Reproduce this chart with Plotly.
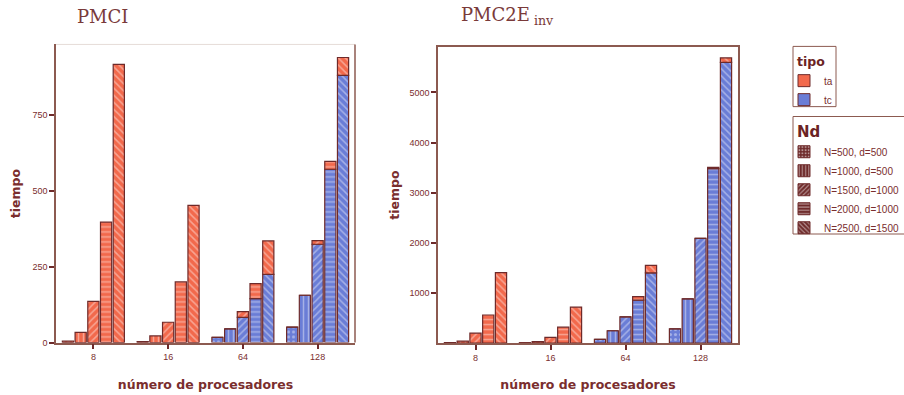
import plotly.graph_objects as go

categories = ["8", "16", "64", "128"]
nd_labels = ["N=500, d=500", "N=1000, d=500", "N=1500, d=1000", "N=2000, d=1000", "N=2500, d=1500"]
nd_patterns = [".", "|", "/", "-", "\\"]

# PMCI : tc (blue, bottom) and ta (red, top) per Nd, per number of processors
pmci_tc = [
    [0, 0, 17, 51],
    [0, 0, 45, 156],
    [0, 0, 83, 324],
    [0, 0, 145, 571],
    [0, 0, 225, 880],
]
pmci_ta = [
    [5, 3, 0, 0],
    [34, 22, 0, 0],
    [136, 67, 19, 12],
    [397, 200, 49, 26],
    [916, 452, 110, 59],
]

# PMC2E_inv
pmc2e_tc = [
    [0, 0, 75, 285],
    [0, 0, 246, 882],
    [0, 0, 522, 2089],
    [0, 0, 856, 3480],
    [0, 0, 1400, 5600],
]
pmc2e_ta = [
    [10, 8, 0, 0],
    [40, 30, 0, 0],
    [199, 114, 0, 0],
    [561, 317, 71, 25],
    [1407, 718, 151, 90],
]

RED = "#f2694c"
BLUE = "#6a7dd6"
EDGE = "#6e2a2a"
TXT = "#7a2e2e"
AX = "#8c5a50"

fig = go.Figure()


def add_chart(tc, ta, xa, ya):
    for k in range(len(nd_labels)):
        fig.add_trace(go.Bar(
            x=categories, y=tc[k], xaxis=xa, yaxis=ya, offsetgroup=str(k),
            marker=dict(color=BLUE, line=dict(color=EDGE, width=1.2),
                        pattern=dict(shape=nd_patterns[k], fgcolor="rgba(255,255,255,0.8)",
                                     size=5, solidity=0.3)),
            showlegend=False, hoverinfo="skip"))
        fig.add_trace(go.Bar(
            x=categories, y=ta[k], base=tc[k], xaxis=xa, yaxis=ya, offsetgroup=str(k),
            marker=dict(color=RED, line=dict(color=EDGE, width=1.2),
                        pattern=dict(shape=nd_patterns[k], fgcolor="rgba(255,255,255,0.8)",
                                     size=5, solidity=0.3)),
            showlegend=False, hoverinfo="skip"))


add_chart(pmci_tc, pmci_ta, "x", "y")
add_chart(pmc2e_tc, pmc2e_ta, "x2", "y2")

# legend: tipo
for name, col in [("ta", RED), ("tc", BLUE)]:
    fig.add_trace(go.Bar(x=[None], y=[None], name=name, marker=dict(color=col, line=dict(color=EDGE, width=1)),
                         legend="legend", showlegend=True))
# legend: Nd
for k, lab in enumerate(nd_labels):
    fig.add_trace(go.Bar(x=[None], y=[None], name=lab,
                         marker=dict(color=EDGE, line=dict(color=EDGE, width=1),
                                     pattern=dict(shape=nd_patterns[k], fgcolor="white", size=4, solidity=0.35)),
                         legend="legend2", showlegend=True))

W, H = 904, 395
axis_common = dict(showline=True, linecolor=AX, linewidth=1.5, ticks="outside", ticklen=5,
                   tickwidth=2, tickcolor=EDGE, tickfont=dict(family="Liberation Sans, Arial", size=9, color=TXT),
                   showgrid=False, zeroline=False)
title_font = dict(family="DejaVu Sans", size=12.5, color=TXT, weight="bold")

fig.update_layout(
    width=W, height=H,
    margin=dict(l=0, r=0, t=0, b=0),
    plot_bgcolor="white", paper_bgcolor="white",
    barmode="group", bargap=0.15, bargroupgap=0.12,
    xaxis=dict(domain=[56 / W, 355 / W], anchor="y",
               title=dict(text="número de procesadores", standoff=19, font=title_font),
               **axis_common),
    yaxis=dict(domain=[1 - 347 / H, 1 - 45 / H], anchor="x", range=[0, 982],
               tickvals=[0, 250, 500, 750],
               title=dict(text="tiempo", standoff=9, font=title_font),
               **axis_common),
    xaxis2=dict(domain=[438 / W, 738 / W], anchor="y2", mirror=True,
                title=dict(text="número de procesadores", standoff=19, font=title_font),
                **axis_common),
    yaxis2=dict(domain=[1 - 347.5 / H, 1 - 47.7 / H], anchor="x2", range=[0, 5905], mirror=True,
                tickvals=[1000, 2000, 3000, 4000, 5000],
                title=dict(text="tiempo", standoff=7, font=title_font),
                **axis_common),
    legend=dict(x=784 / W, y=1 - 67 / H, xanchor="left", yanchor="top",
                borderwidth=0, bgcolor="rgba(0,0,0,0)",
                font=dict(family="Liberation Sans, Arial", size=10, color=TXT),
                itemwidth=30, tracegroupgap=0, traceorder="normal"),
    legend2=dict(x=784 / W, y=1 - 139 / H, xanchor="left", yanchor="top",
                 borderwidth=0, bgcolor="rgba(0,0,0,0)",
                 font=dict(family="Liberation Sans, Arial", size=10, color=TXT),
                 itemwidth=30, tracegroupgap=0, traceorder="normal"),
    annotations=[
        dict(text="PMCI", x=75 / W, y=1 - 17 / H, xref="paper", yref="paper", xanchor="left", yanchor="middle",
             showarrow=False, font=dict(family="DejaVu Serif", size=18, color="#7a3a3a")),
        dict(text="PMC2E<sub> inv</sub>", x=459 / W, y=1 - 16 / H, xref="paper", yref="paper", xanchor="left",
             yanchor="middle", showarrow=False, font=dict(family="DejaVu Serif", size=18, color="#7a3a3a")),
        dict(text="<b>tipo</b>", x=795 / W, y=1 - 62 / H, xref="paper", yref="paper", xanchor="left",
             yanchor="middle", showarrow=False, font=dict(family="DejaVu Sans", size=12.5, color="#6b2424")),
        dict(text="<b>Nd</b>", x=795 / W, y=1 - 134 / H, xref="paper", yref="paper", xanchor="left",
             yanchor="middle", showarrow=False, font=dict(family="DejaVu Sans", size=15, color="#6b2424")),
    ],
)

# faint top line and right border on left chart
fig.add_shape(type="line", xref="paper", yref="paper", x0=56 / W, x1=355 / W, y0=1 - 45 / H, y1=1 - 45 / H,
              line=dict(color="#e6dcd8", width=1))
fig.add_shape(type="line", xref="paper", yref="paper", x0=355 / W, x1=355 / W, y0=1 - 347 / H, y1=1 - 45 / H,
              line=dict(color=AX, width=1.5))
# legend boxes
fig.add_shape(type="rect", xref="paper", yref="paper", x0=793 / W, x1=836 / W, y0=1 - 108 / H, y1=1 - 47 / H,
              line=dict(color=AX, width=1))
fig.add_shape(type="rect", xref="paper", yref="paper", x0=793 / W, x1=906 / W, y0=1 - 237 / H, y1=1 - 118 / H,
              line=dict(color=AX, width=1))

fig.write_html("out.html", config={"displayModeBar": False},
               post_script="document.body.style.margin='0';document.body.style.overflow='hidden';")
